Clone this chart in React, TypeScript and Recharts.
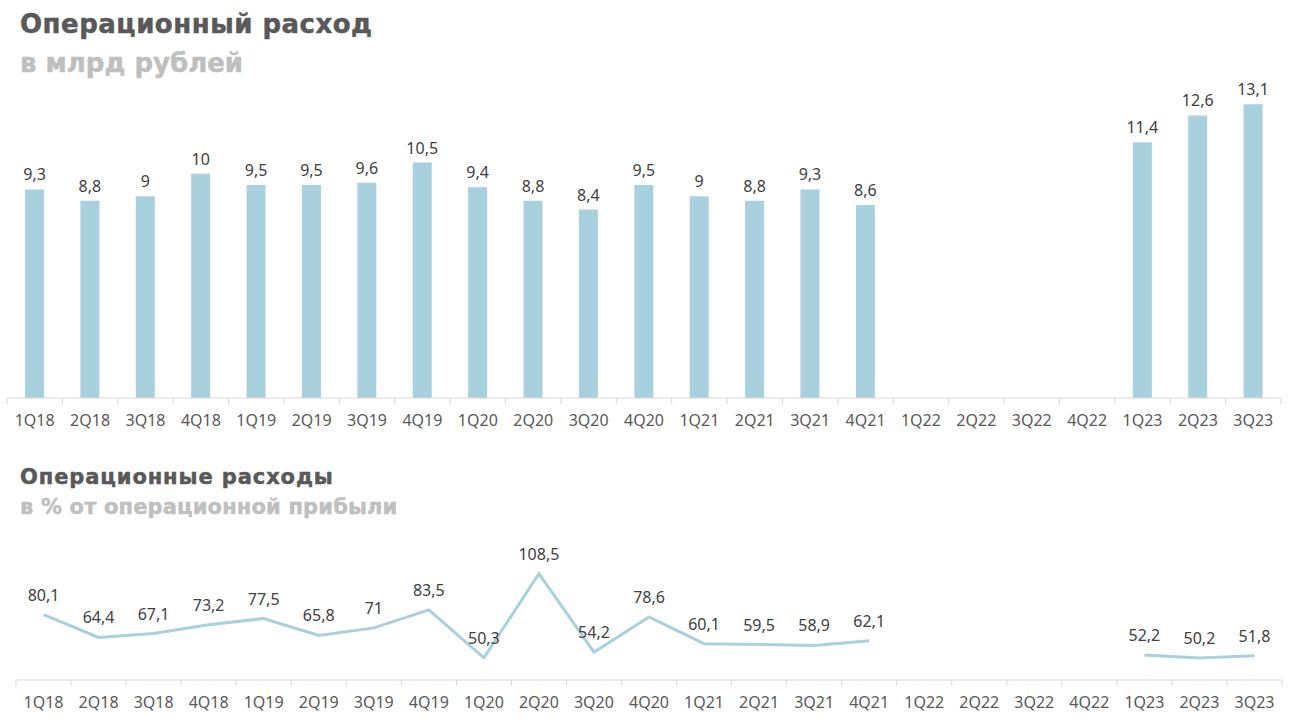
import React from "react";
import { BarChart, Bar, LineChart, Line, XAxis, YAxis, LabelList } from "recharts";

const categories = ["1Q18","2Q18","3Q18","4Q18","1Q19","2Q19","3Q19","4Q19","1Q20","2Q20","3Q20","4Q20","1Q21","2Q21","3Q21","4Q21","1Q22","2Q22","3Q22","4Q22","1Q23","2Q23","3Q23"];
const opexBn: (number | null)[] = [9.3,8.8,9,10,9.5,9.5,9.6,10.5,9.4,8.8,8.4,9.5,9,8.8,9.3,8.6,null,null,null,null,11.4,12.6,13.1];
const opexPct: (number | null)[] = [80.1,64.4,67.1,73.2,77.5,65.8,71,83.5,50.3,108.5,54.2,78.6,60.1,59.5,58.9,62.1,null,null,null,null,52.2,50.2,51.8];

const barData = categories.map((c, i) => ({ cat: c, v: opexBn[i] }));
const lineData = categories.map((c, i) => ({ cat: c, v: opexPct[i] }));

const BLUE = "#a9d0dd";
const TEXT = "#404040";
const TICK = "#595959";
const AXIS = "#d9d9d9";
const FONT = "'Noto Sans', 'Open Sans', sans-serif";

const fmt = (v: any) => (v === null || v === undefined ? "" : String(v).replace(".", ","));

const BoundaryTick = (props: any) => {
  const { x, y, payload } = props;
  const off = payload.offset || 0;
  const last = payload.value === categories[categories.length - 1];
  return (
    <g>
      <line x1={x - off} x2={x - off} y1={y - 8} y2={y - 2} stroke={AXIS} strokeWidth={1} />
      {last && <line x1={x + off} x2={x + off} y1={y - 8} y2={y - 2} stroke={AXIS} strokeWidth={1} />}
      <text x={x} y={y + 20} textAnchor="middle" fill={TICK} fontSize={16} fontFamily={FONT}>
        {payload.value}
      </text>
    </g>
  );
};

const titleStyle: React.CSSProperties = {
  position: "absolute",
  left: 20,
  fontFamily: "'DejaVu Sans', sans-serif",
  fontWeight: 700,
  margin: 0,
  whiteSpace: "nowrap",
  WebkitTextStroke: "0.5px currentColor",
};

export default function App() {
  return (
    <div style={{ position: "absolute", left: 0, top: 0, width: 1293, height: 723, background: "#fff", overflow: "hidden" }}>
      <div style={{ ...titleStyle, top: 9, fontSize: 26, letterSpacing: 0.5, color: "#595959" }}>Операционный расход</div>
      <div style={{ ...titleStyle, top: 48, fontSize: 26, color: "#bfbfbf" }}>в млрд рублей</div>
      <div style={{ ...titleStyle, top: 465, fontSize: 21, letterSpacing: 0.9, color: "#595959" }}>Операционные расходы</div>
      <div style={{ ...titleStyle, top: 495, fontSize: 21, letterSpacing: 0.15, color: "#bfbfbf" }}>в % от операционной прибыли</div>

      <div style={{ position: "absolute", left: 0, top: 0 }}>
        <BarChart width={1293} height={440} data={barData} margin={{ top: 84, right: 12, left: 7, bottom: 0 }}>
          <XAxis dataKey="cat" height={42} tickLine={false} axisLine={{ stroke: AXIS }} tick={<BoundaryTick />} interval={0} />
          <YAxis hide domain={[0, 14]} />
          <Bar dataKey="v" fill={BLUE} barSize={19} isAnimationActive={false}>
            <LabelList dataKey="v" position="top" offset={9} formatter={fmt} fill={TEXT} fontSize={16} fontFamily={FONT} />
          </Bar>
        </BarChart>
      </div>

      <div style={{ position: "absolute", left: 0, top: 540 }}>
        <LineChart width={1293} height={183} data={lineData} margin={{ top: 17, right: 11, left: 16, bottom: 0 }}>
          <XAxis dataKey="cat" scale="band" height={43} tickLine={false} axisLine={{ stroke: AXIS }} tick={<BoundaryTick />} interval={0} />
          <YAxis hide domain={[35, 120]} />
          <Line dataKey="v" stroke={BLUE} strokeWidth={3} dot={false} connectNulls={false} isAnimationActive={false}>
            <LabelList dataKey="v" position="top" offset={14} formatter={fmt} fill={TEXT} fontSize={16} fontFamily={FONT} />
          </Line>
        </LineChart>
      </div>
    </div>
  );
}
